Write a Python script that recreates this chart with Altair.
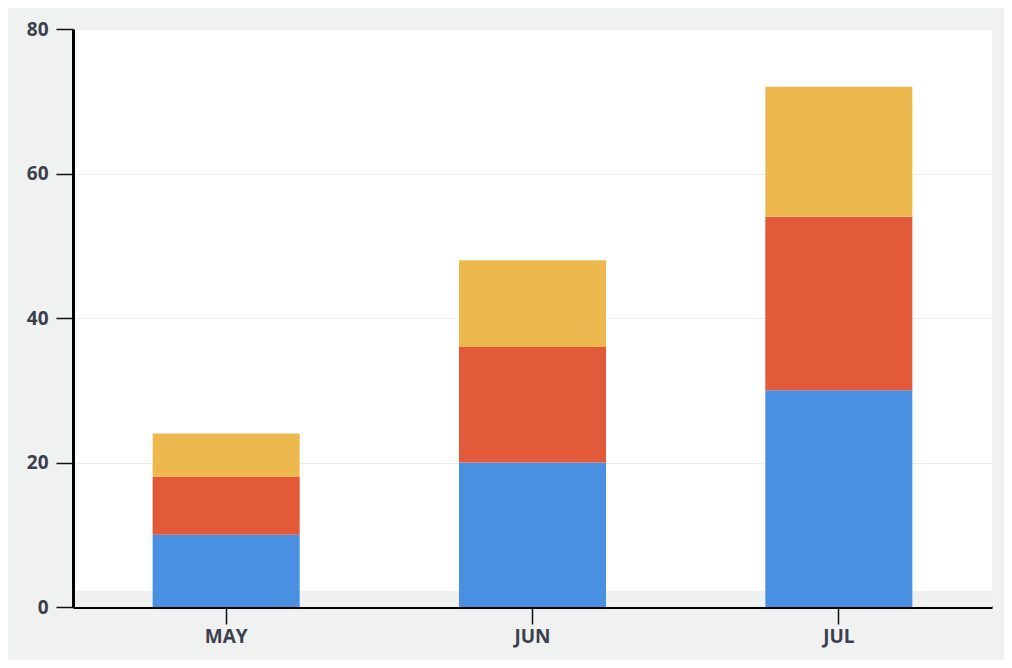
import altair as alt
import pandas as pd

months = ["MAY", "JUN", "JUL"]
series = ["A", "B", "C"]
values_a = [10, 20, 30]
values_b = [8, 16, 24]
values_c = [6, 12, 18]
colors = ["#4a90e2", "#e35a3a", "#edb94e"]
y_ticks = [0, 20, 40, 60, 80]

rows = []
for i, m in enumerate(months):
    for s, vals, o in zip(series, [values_a, values_b, values_c], [0, 1, 2]):
        rows.append({"month": m, "series": s, "value": vals[i], "order": o})
df = pd.DataFrame(rows)

W, H = 919, 578
font = "Open Sans"
label_color = "#3b404c"

strip = alt.Chart(pd.DataFrame({"a": [0]})).mark_rect(color="#eff0f0").encode(
    x=alt.value(2), x2=alt.value(W), y=alt.value(H - 16), y2=alt.value(H)
)

bars = alt.Chart(df).mark_bar().encode(
    x=alt.X(
        "month:N",
        sort=months,
        scale=alt.Scale(paddingInner=0.52, paddingOuter=0.26),
        axis=alt.Axis(
            title=None,
            labelAngle=0,
            labelFont=font,
            labelFontSize=19,
            labelFontWeight="bold",
            labelColor=label_color,
            labelPadding=3,
            tickSize=17,
            tickColor="#111111",
            tickWidth=1.5,
            domainColor="#000000",
            domainWidth=3,
            grid=False,
        ),
    ),
    y=alt.Y(
        "value:Q",
        stack="zero",
        scale=alt.Scale(domain=[0, 80], nice=False),
        axis=alt.Axis(
            title=None,
            values=y_ticks,
            labelFont=font,
            labelFontSize=19,
            labelFontWeight="bold",
            labelColor=label_color,
            labelPadding=8,
            tickSize=17,
            tickColor="#111111",
            tickWidth=1.5,
            domainColor="#000000",
            domainWidth=3,
            grid=True,
            gridColor="#ededed",
            gridWidth=1,
        ),
    ),
    color=alt.Color(
        "series:N",
        scale=alt.Scale(domain=series, range=colors),
        legend=None,
    ),
    order=alt.Order("order:Q", sort="ascending"),
)

chart = alt.layer(strip, bars).properties(
    width=W,
    height=H,
    background="#f0f1f1",
    padding={"left": 65, "top": 21, "right": 12, "bottom": 53},
    autosize=alt.AutoSizeParams(type="none"),
).configure_view(fill="#ffffff", stroke=None)

chart.save("out.html", embed_options={"renderer": "svg", "actions": False})
